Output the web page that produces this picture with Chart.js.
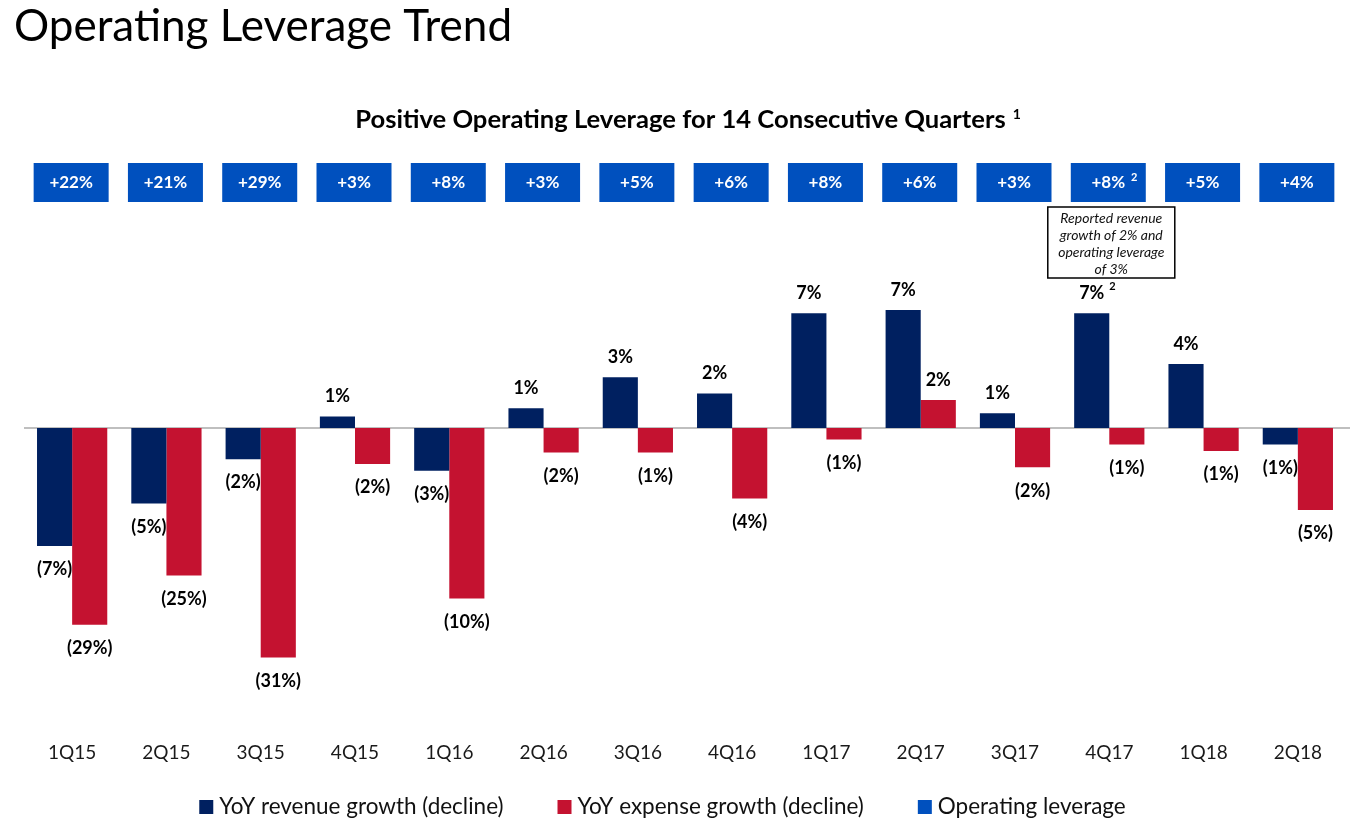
<!DOCTYPE html>
<html>
<head>
<meta charset="utf-8">
<script src="https://cdn.jsdelivr.net/npm/chart.js@4.4.0/dist/chart.umd.min.js"></script>
<style>
  html, body { margin: 0; padding: 0; background: #ffffff; }
  #wrap { position: relative; width: 1357px; height: 828px; }
  canvas { display: block; }
</style>
</head>
<body>
<div id="wrap"><canvas id="c" width="1357" height="828"></canvas></div>
<script>
// ---------------- data ----------------
const quarters = ['1Q15','2Q15','3Q15','4Q15','1Q16','2Q16','3Q16','4Q16','1Q17','2Q17','3Q17','4Q17','1Q18','2Q18'];
// bar lengths as drawn (the slide shortens the three largest expense declines)
const revenueGrowth = [-7.2, -4.6, -1.9, 0.7, -2.6, 1.2, 3.1, 2.1, 7.0, 7.2, 0.9, 7.0, 3.9, -1.0];
const expenseGrowth = [-12.0, -9.0, -14.0, -2.2, -10.4, -1.5, -1.5, -4.3, -0.7, 1.7, -2.4, -1.0, -1.4, -5.0];
// reported (labelled) percentages
const revenueReported = [-7, -5, -2, 1, -3, 1, 3, 2, 7, 7, 1, 7, 4, -1];
const expenseReported = [-29, -25, -31, -2, -10, -2, -1, -4, -1, 2, -2, -1, -1, -5];
const operatingLeverage = [22, 21, 29, 3, 8, 3, 5, 6, 8, 6, 3, 8, 5, 4];
const footnoteIndex = 11; // 4Q17 carries footnote 2
const noteLines = ['Reported revenue', 'growth of 2% and', 'operating leverage', 'of 3%'];
const seriesNames = ['YoY revenue growth (decline)', 'YoY expense growth (decline)', 'Operating leverage'];

// ---------------- styles ----------------
const NAVY = '#002060', RED = '#C41230', BLUE = '#0050BE';
const FONT = 'Lato, "Open Sans", sans-serif';

const pct = v => v < 0 ? '(' + Math.abs(v) + '%)' : v + '%';

function textWithSup(ctx, text, sup, cx, cy, font, supFont, supGap, supRise) {
  ctx.font = font;
  const w = ctx.measureText(text).width;
  const left = cx - w / 2;
  ctx.textAlign = 'left';
  ctx.textBaseline = 'middle';
  ctx.fillText(text, left, cy);
  if (sup) { ctx.font = supFont; ctx.fillText(sup, left + w + supGap, cy - supRise); }
}

const decor = {
  id: 'decor',
  beforeDatasetsDraw(chart) {
    const { ctx, scales: { y }, chartArea } = chart;
    const y0 = y.getPixelForValue(0);
    ctx.save();
    ctx.strokeStyle = '#BFBFBF';
    ctx.lineWidth = 2;
    ctx.beginPath();
    ctx.moveTo(chartArea.left - 1, y0);
    ctx.lineTo(chartArea.right + 5, y0);
    ctx.stroke();
    ctx.restore();
  },
  afterDatasetsDraw(chart) {
    const { ctx, scales: { x } } = chart;
    ctx.save();

    // page title
    ctx.fillStyle = '#000';
    ctx.font = '44px ' + FONT;
    ctx.textAlign = 'left';
    ctx.textBaseline = 'alphabetic';
    ctx.fillText('Operating Leverage Trend', 14, 41);

    // subtitle with footnote mark
    const sub = 'Positive Operating Leverage for 14 Consecutive Quarters';
    ctx.font = 'bold 25.6px ' + FONT;
    const sw = ctx.measureText(sub).width;
    ctx.font = 'bold 14px ' + FONT;
    const supw = ctx.measureText('1').width;
    const sx = 688 - (sw + 7 + supw) / 2;
    ctx.font = 'bold 25.6px ' + FONT;
    ctx.fillText(sub, sx, 128);
    ctx.font = 'bold 14px ' + FONT;
    ctx.fillText('1', sx + sw + 7, 119);

    // operating leverage boxes
    operatingLeverage.forEach((v, i) => {
      const cx = x.getPixelForValue(i) - 1;
      ctx.fillStyle = BLUE;
      ctx.fillRect(cx - 37.5, 163, 75, 39);
      ctx.fillStyle = '#fff';
      textWithSup(ctx, '+' + v + '%', i === footnoteIndex ? '2' : null, cx, 183,
        'bold 17px ' + FONT, 'bold 11px ' + FONT, 6, 6);
    });

    // note box under 4Q17
    const ncx = x.getPixelForValue(footnoteIndex) + 2;
    ctx.fillStyle = '#fff';
    ctx.fillRect(ncx - 63.5, 207, 127, 71);
    ctx.strokeStyle = '#000';
    ctx.lineWidth = 1.5;
    ctx.strokeRect(ncx - 63.5, 207, 127, 71);
    ctx.fillStyle = '#111';
    ctx.font = 'italic 14px ' + FONT;
    ctx.textAlign = 'center';
    ctx.textBaseline = 'middle';
    noteLines.forEach((t, k) => ctx.fillText(t, ncx, 218 + k * 17));

    // data labels
    ctx.fillStyle = '#000';
    [revenueReported, expenseReported].forEach((rep, di) => {
      const meta = chart.getDatasetMeta(di);
      const vals = chart.data.datasets[di].data;
      meta.data.forEach((el, i) => {
        const cy = vals[i] >= 0 ? el.y - 20 : el.y + 23.5;
        textWithSup(ctx, pct(rep[i]), (di === 0 && i === footnoteIndex) ? '2' : null, el.x, cy,
          'bold 18px ' + FONT, 'bold 11px ' + FONT, 5, 7);
      });
    });

    // legend
    const colors = [NAVY, RED, BLUE];
    ctx.font = '22.5px ' + FONT;
    const widths = seriesNames.map(s => ctx.measureText(s).width);
    const sq = 14, gapSq = 6, gapItem = 54;
    const total = widths.reduce((a, w) => a + sq + gapSq + w, 0) + gapItem * 2;
    let lx = 662.5 - total / 2;
    seriesNames.forEach((s, k) => {
      ctx.fillStyle = colors[k];
      ctx.fillRect(lx, 800, sq, sq);
      ctx.fillStyle = '#111';
      ctx.textAlign = 'left';
      ctx.textBaseline = 'middle';
      ctx.fillText(s, lx + sq + gapSq, 807);
      lx += sq + gapSq + widths[k] + gapItem;
    });

    ctx.restore();
  }
};

new Chart(document.getElementById('c'), {
  type: 'bar',
  data: {
    labels: quarters,
    datasets: [
      { label: seriesNames[0], data: revenueGrowth, backgroundColor: NAVY, borderWidth: 0 },
      { label: seriesNames[1], data: expenseGrowth, backgroundColor: RED, borderWidth: 0 }
    ]
  },
  options: {
    responsive: false,
    animation: false,
    devicePixelRatio: 1,
    datasets: { bar: { categoryPercentage: 0.745, barPercentage: 1.0 } },
    layout: { padding: { top: 231.2, bottom: 54.8, left: 25, right: 12 } },
    plugins: { legend: { display: false }, tooltip: { enabled: false }, title: { display: false } },
    scales: {
      x: {
        grid: { display: false, drawTicks: false },
        border: { display: false },
        ticks: { autoSkip: false, maxRotation: 0, padding: 18, color: '#1a1a1a', font: { family: FONT, size: 19 } },
        afterFit(scale) { scale.height = 50; }
      },
      y: {
        display: false,
        min: -18,
        max: 12
      }
    }
  },
  plugins: [decor]
});
</script>
</body>
</html>
